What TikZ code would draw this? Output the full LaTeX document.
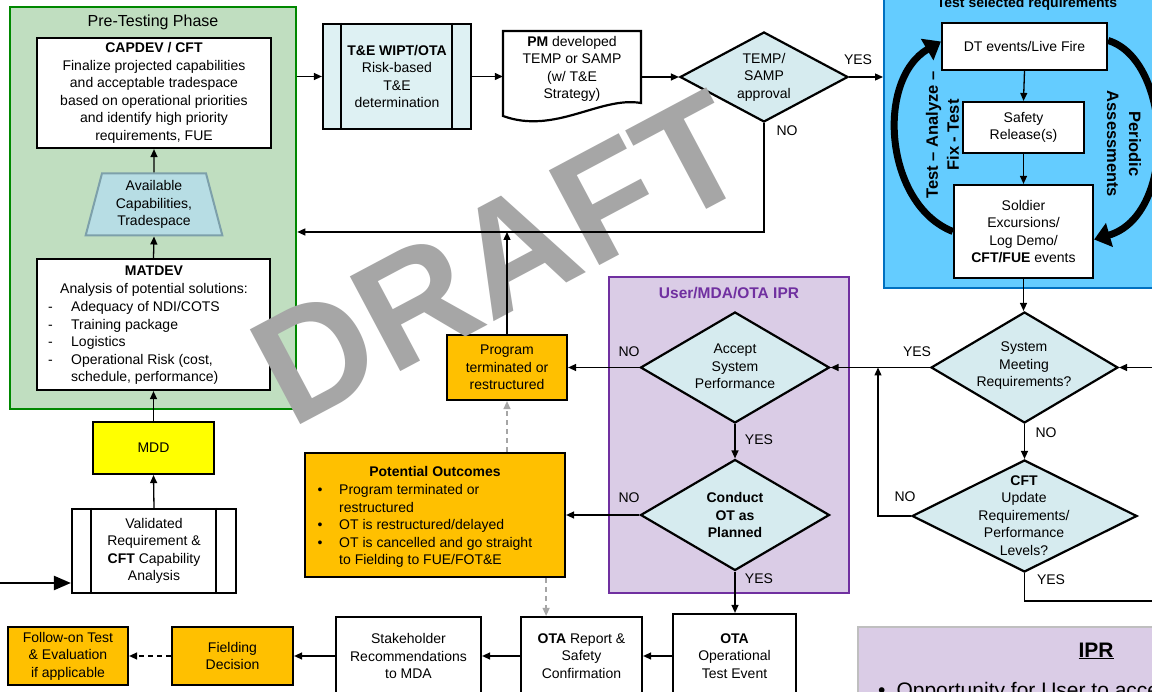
\documentclass[tikz,border=0pt]{standalone}
\usepackage{fontspec}
\setmainfont{Liberation Sans}
\usetikzlibrary{shapes.geometric,arrows.meta,calc}
\definecolor{pregreen}{RGB}{192,222,192}
\definecolor{pregreenb}{RGB}{0,136,0}
\definecolor{tecyan}{RGB}{222,241,243}
\definecolor{dfill}{RGB}{214,235,239}
\definecolor{trapfill}{RGB}{183,221,228}
\definecolor{trapline}{RGB}{125,160,170}
\definecolor{orng}{RGB}{255,192,0}
\definecolor{ylw}{RGB}{255,255,0}
\definecolor{purfill}{RGB}{218,204,230}
\definecolor{purline}{RGB}{112,48,160}
\definecolor{testblue}{RGB}{100,204,255}
\definecolor{testline}{RGB}{0,112,192}
\definecolor{iprline}{RGB}{191,191,191}
\definecolor{wmgray}{RGB}{166,166,166}
\definecolor{dashgray}{RGB}{166,166,166}
\newcommand\fs{\fontsize{14}{17.5}\selectfont}
\begin{document}
\begin{tikzpicture}[x=1pt,y=-1pt,
  box/.style={rectangle, draw, line width=2.2pt, fill=white, inner sep=2pt, align=center, font=\fs},
  dia/.style={diamond, draw, line width=2.2pt, fill=dfill, inner sep=0pt},
  txt/.style={font=\fs, align=center, inner sep=0pt},
  lbl/.style={font=\fs, inner sep=0pt},
  conn/.style={line width=1.3pt, -{Triangle[length=8pt,width=7pt]}},
  plainline/.style={line width=1.3pt},
  gdash/.style={line width=1.3pt, dashgray, dash pattern=on 5pt off 4pt, -{Triangle[length=8pt,width=7pt]}},
  bdash/.style={line width=1.3pt, dash pattern=on 5pt off 4pt, -{Triangle[length=8pt,width=7pt]}},
  bigarc/.style={line width=7pt, -{Triangle[length=16pt,width=24pt]}},
]
\useasboundingbox (0,0) rectangle (1152,692);
\clip (0,0) rectangle (1152,692);
\fill[white] (0,0) rectangle (1152,692);

% ---------- Pre-testing phase ----------
\node[draw=pregreenb, line width=2.6pt, fill=pregreen, minimum width=286pt, minimum height=402pt, inner sep=0pt] (pre) at (153,208) {};
\node[font=\fontsize{16}{19}\selectfont, inner sep=0pt] (pretitle) at (153,22) {Pre-Testing Phase};
\node[box, minimum width=234pt, minimum height=110pt] (capdev) at (154,93) {\textbf{CAPDEV / CFT}\\Finalize projected capabilities\\and acceptable tradespace\\based on operational priorities\\and identify high priority\\requirements, FUE};
\node[trapezium, trapezium stretches=true, trapezium left angle=76, trapezium right angle=76, minimum width=138pt, minimum height=62pt, draw=trapline, line width=2pt, fill=trapfill, align=center, font=\fs, inner sep=0pt] (avail) at (154,204.5) {Available\\Capabilities,\\Tradespace};
\node[box, minimum width=233pt, minimum height=131pt] (matdev) at (153.5,324.5) {};
\node[txt] (matdevhead) at (154,281) {\textbf{MATDEV}\\Analysis of potential solutions:};
\node[lbl, anchor=base west] (matdevlist) at (48,312) {\begin{tabular}[t]{@{}p{23pt}@{}l@{}}-&Adequacy of NDI/COTS\\-&Training package\\-&Logistics\\-&Operational Risk (cost,\\&schedule, performance)\end{tabular}};

\node[box, fill=ylw, minimum width=121pt, minimum height=52pt] (mdd) at (153.5,448) {MDD};
\node[box, minimum width=164pt, minimum height=84pt] (valid) at (154,551) {Validated\\Requirement \&\\\textbf{CFT} Capability\\Analysis};
\draw[line width=2.2pt] ([xshift=20pt]valid.north west) -- ([xshift=20pt]valid.south west);
\draw[line width=2.2pt] ([xshift=-21pt]valid.north east) -- ([xshift=-21pt]valid.south east);

\node[box, fill=orng, minimum width=120pt, minimum height=58pt] (follow) at (68,656) {Follow-on Test\\\& Evaluation\\if applicable};
\node[box, fill=orng, minimum width=121pt, minimum height=58pt] (field) at (232.5,656) {Fielding\\Decision};
\node[box, minimum width=145pt, minimum height=78pt] (stake) at (408.5,656) {Stakeholder\\Recommendations\\to MDA};
\node[box, minimum width=121pt, minimum height=78pt] (otarep) at (581.5,656) {\textbf{OTA} Report \&\\Safety\\Confirmation};
\node[box, minimum width=123pt, minimum height=84pt] (otaop) at (734.5,656) {\textbf{OTA}\\Operational\\Test Event};

% ---------- top row ----------
\node[box, fill=tecyan, minimum width=148pt, minimum height=105pt] (tewipt) at (397,76.5) {\textbf{T\&E WIPT/OTA}\\Risk-based\\T\&E\\determination};
\draw[line width=2.2pt] ([xshift=19pt]tewipt.north west) -- ([xshift=19pt]tewipt.south west);
\draw[line width=2.2pt] ([xshift=-20pt]tewipt.north east) -- ([xshift=-20pt]tewipt.south east);

\node[minimum width=138pt, minimum height=92pt, inner sep=0pt] (pm) at (572,77) {};
\draw[line width=2.2pt, fill=white] (503,31) -- (641,31) -- (641,103) .. controls (600,96) and (555,135) .. (503,116) -- cycle;
\node[txt] (pmt) at (572,69) {\textbf{PM} developed\\TEMP or SAMP\\(w/ T\&E\\Strategy)};

\node[dia, minimum width=168pt, minimum height=90pt] (temp) at (764,77) {};
\node[txt] (tempt) at (764,77) {TEMP/\\SAMP\\approval};

% ---------- Test selected requirements ----------
\node[draw=testline, line width=2pt, fill=testblue, minimum width=320pt, minimum height=320pt, inner sep=0pt] (test) at (1044,128) {};
\node[font=\bfseries\fs, inner sep=0pt, anchor=base] (testt) at (1027,8) {Test selected requirements};
\node[box, minimum width=165pt, minimum height=47pt] (dt) at (1024.5,46.5) {DT events/Live Fire};
\node[box, minimum width=121pt, minimum height=51pt] (safety) at (1023.5,127.5) {Safety\\Release(s)};
\node[box, minimum width=139pt, minimum height=93pt] (soldier) at (1023.5,231.5) {Soldier\\Excursions/\\Log Demo/\\\textbf{CFT/FUE} events};
\draw[bigarc] (soldier.west) .. controls (885,205) and (875,80) .. ([yshift=5pt]dt.west);
\draw[bigarc] ([yshift=6pt]dt.east) .. controls (1172,60) and (1178,215) .. ([yshift=-8pt]soldier.east);
\node[font=\bfseries\fontsize{16.5}{21}\selectfont, rotate=90, align=center, inner sep=0pt] (taft) at (942.5,135) {Test \textendash{} Analyze \textendash\\Fix - Test};
\node[font=\bfseries\fontsize{16.5}{22}\selectfont, rotate=-90, align=center, inner sep=0pt] (peri) at (1124,144) {Periodic\\Assessments};

% ---------- User/MDA/OTA IPR ----------
\node[draw=purline, line width=2.6pt, fill=purfill, minimum width=240pt, minimum height=316pt, inner sep=0pt] (ipr) at (729,435) {};
\node[font=\bfseries\fontsize{15.5}{18}\selectfont, text=purline, inner sep=0pt] (iprt) at (729,293) {User/MDA/OTA IPR};
\node[dia, minimum width=189pt, minimum height=111pt] (accept) at (735,367.5) {};
\node[txt] (acceptt) at (735,366.5) {Accept\\System\\Performance};
\node[dia, minimum width=189pt, minimum height=111pt] (conduct) at (735,515) {};
\node[txt, font=\bfseries\fs] (conductt) at (735,515) {Conduct\\OT as\\Planned};

\node[box, fill=orng, minimum width=120pt, minimum height=65pt] (progterm) at (507,367.5) {Program\\terminated or\\restructured};
\node[box, fill=orng, minimum width=260pt, minimum height=124pt] (potential) at (435,515) {};
\node[font=\bfseries\fs, inner sep=0pt] (pott) at (435,471) {Potential Outcomes};
\node[lbl, anchor=base west] (potl) at (317.5,495) {\begin{tabular}[t]{@{}p{21.5pt}@{}l@{}}\textbullet&Program terminated or\\&restructured\\\textbullet&OT is restructured/delayed\\\textbullet&OT is cancelled and go straight\\&to Fielding to FUE/FOT\&E\end{tabular}};

% ---------- right side ----------
\node[dia, minimum width=187pt, minimum height=111pt] (sysmeet) at (1024.5,367.5) {};
\node[txt] (sysmeett) at (1024,366) {System\\Meeting\\Requirements?};
\node[dia, minimum width=225pt, minimum height=112pt] (cft) at (1024.5,516) {};
\node[txt] (cftt) at (1024,515.5) {\textbf{CFT}\\Update\\Requirements/\\Performance\\Levels?};

\node[draw=iprline, line width=2pt, fill=purfill, minimum width=340pt, minimum height=120pt, inner sep=0pt] (iprn) at (1028,687) {};
\node[font=\bfseries\fontsize{21}{25}\selectfont, inner sep=0pt, anchor=base] (iprnt) at (1096,657) {\underline{IPR}};
\node[font=\fontsize{21}{25}\selectfont, inner sep=0pt, anchor=base west] (iprnb) at (878,697) {\textbullet\hspace{11pt}Opportunity for User to accept};

% ---------- watermark ----------
\node[font=\bfseries\fontsize{156}{156}\selectfont, text=wmgray, rotate=28, inner sep=0pt] (draft) at (500,258) {DRAFT};

% ---------- connectors ----------
\draw[conn] (pre.east |- tewipt.west) -- (tewipt.west);
\draw[conn] (tewipt.east) -- (tewipt.east -| pm.west);
\draw[conn] (pm.east) -- (temp.west);
\draw[conn] (temp.east) -- (temp.east -| test.west);
\coordinate (ret) at (764,232);
\draw[conn] (temp.south) -- (ret) -- (ret -| pre.east);
\draw[conn] (progterm.north) -- (progterm.north |- ret);
\draw[conn] (matdev.north) -- (avail.south);
\draw[conn] (avail.north) -- (capdev.south);
\draw[conn] (mdd.north) -- (matdev.south);
\draw[conn] (valid.north) -- (mdd.south);
\coordinate (inl) at (-5,583);
\draw[line width=2.2pt, -{Triangle[length=17pt,width=14pt]}] (inl) -- (inl -| valid.west);

\draw[conn] (dt.south) -- (safety.north);
\draw[conn] (safety.south) -- (soldier.north);
\draw[conn] (soldier.south) -- (soldier.south |- sysmeet.north);
\draw[conn] (sysmeet.west) -- (accept.east);
\coordinate (inr) at (1160,367.5);
\draw[conn] (inr) -- (sysmeet.east);
\draw[conn] (sysmeet.south) -- (cft.north);
\coordinate (cftl) at (878,516);
\draw[conn] (cft.west) -- (cftl) -- (cftl |- sysmeet.west);
\coordinate (cfty) at (1024.5,601);
\coordinate (cftr) at (1160,601);
\draw[plainline] (cft.south) -- (cfty) -- (cftr);

\draw[conn] (accept.west) -- (progterm.east);
\draw[conn] (accept.south) -- (conduct.north);
\draw[conn] (conduct.west) -- (potential.east);
\draw[conn] (conduct.south) -- (conduct.south |- otaop.north);
\draw[conn] (otaop.west) -- (otarep.east);
\draw[conn] (otarep.west) -- (stake.east);
\draw[conn] (stake.west) -- (field.east);
\draw[bdash] (field.west) -- (follow.east);
\draw[gdash] (potential.north -| progterm.south) -- (progterm.south);
\coordinate (potb) at ([xshift=-20pt]potential.south east);
\draw[gdash] (potb) -- (potb |- otarep.north);

% ---------- labels ----------
\node[lbl] (l1) at (858,60) {YES};
\node[lbl] (l2) at (787,131) {NO};
\node[lbl] (l3) at (629,352) {NO};
\node[lbl] (l4) at (759,440) {YES};
\node[lbl] (l5) at (629,498) {NO};
\node[lbl] (l6) at (759,579) {YES};
\node[lbl] (l7) at (917,352) {YES};
\node[lbl] (l8) at (1046,433) {NO};
\node[lbl] (l9) at (905,497) {NO};
\node[lbl] (l10) at (1051,580) {YES};
\end{tikzpicture}
\end{document}
